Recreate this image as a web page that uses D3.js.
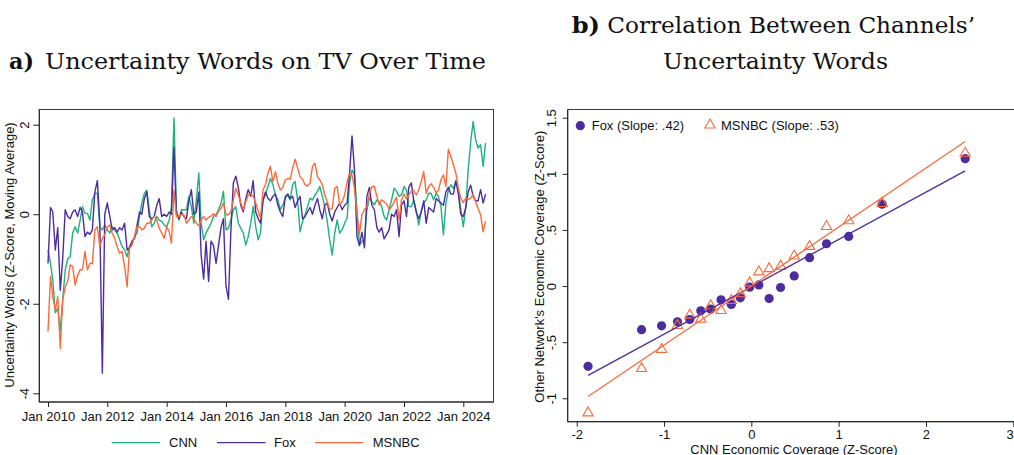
<!DOCTYPE html>
<html><head><meta charset="utf-8">
<script src="https://cdn.jsdelivr.net/npm/d3@7"></script>
<style>
html,body{margin:0;padding:0;background:#fff;}
svg{display:block;}
text{font-family:"Liberation Sans",Arial,Helvetica,sans-serif;fill:#111;}
.title{font-family:"DejaVu Serif","Liberation Serif",serif;}
</style></head>
<body><svg id="c" width="1014" height="455"></svg>
<script>
// ---------- DATA ----------
const startMonth = "2010-01";
const cnn = [
-0.8,-1.1,-1.47,-2.2,-2.1,-2.6,-1.9,-1.25,-1.0,-0.95,-0.42,-0.28,
-0.42,-0.13,0.17,0.02,0.02,-0.13,0.32,0.47,0.47,-0.28,-0.35,-0.24,
-0.35,-0.42,-0.28,-0.35,-0.42,-0.57,-0.72,-0.8,-0.95,-0.72,-0.65,-0.5,
-0.42,-0.05,0.25,0.47,0.54,0.1,-0.28,-0.2,-0.05,-0.13,-0.16,-0.24,
-0.28,-0.13,0.17,2.15,0.1,-0.13,0.1,0.1,0.1,0.4,0.17,-0.2,
0.32,0.92,-0.2,-0.57,-0.42,-0.31,-0.2,-0.05,-0.01,0.1,0.25,0.51,
-0.35,-0.31,-0.13,0.1,0.17,-0.2,-0.31,-0.42,-0.69,-0.5,-0.2,0.17,
-0.28,-0.57,-0.42,0.32,0.43,0.62,0.8,0.66,0.43,0.32,0.1,0.21,
0.36,0.43,0.32,0.66,0.73,0.32,-0.39,-0.16,-0.01,0.17,0.36,0.32,
0.43,0.51,0.62,0.4,0.17,-0.16,-0.57,-0.91,-0.42,-0.13,-0.42,-0.35,
-0.2,-0.09,0.69,0.99,0.88,0.1,-0.69,-0.61,-0.57,0.1,0.36,0.28,
0.21,0.32,0.28,0.17,-0.05,-0.13,0.1,0.32,0.58,0.51,0.4,0.43,
0.62,0.54,0.17,0.17,0.32,0.06,-0.24,0.06,0.25,0.32,0.47,0.47,
0.32,0.47,0.4,0.17,-0.46,0.25,0.54,0.66,0.58,0.73,0.54,0.1,
-0.28,0.17,0.99,1.62,2.07,1.66,1.48,1.55,1.07,1.59];
const fox = [
-1.1,0.15,0.05,-0.8,-0.3,-1.7,-1.0,0.1,-0.05,-0.1,0.05,0.1,
-0.05,0.15,0.05,-0.5,-0.4,-0.45,-0.35,0.5,0.75,-0.2,-3.55,0.0,
0.25,-0.05,-0.35,-0.3,-0.4,-0.3,-0.35,-0.2,-0.8,-0.75,-0.6,-0.55,
-0.25,0.05,0.0,0.35,0.5,-0.05,-0.1,-0.05,0.2,0.35,-0.05,0.0,
-0.05,0.05,0.0,1.5,0.0,-0.1,0.05,-0.05,-0.1,0.3,0.55,0.0,
0.05,0.5,-0.9,-1.45,-0.6,-1.5,-0.6,-0.7,-1.1,-0.7,-0.3,-0.1,
-1.6,-1.9,-0.4,0.7,0.85,0.6,0.2,0.05,0.35,0.55,0.4,0.75,
0.05,-0.1,-0.2,0.3,0.5,0.35,0.3,0.4,0.45,0.2,0.05,-0.05,
0.4,0.45,0.35,0.4,0.15,0.3,0.4,-0.1,-0.05,0.05,0.15,0.0,
0.2,0.35,0.1,-0.1,0.2,0.25,0.0,-0.15,0.05,0.15,0.25,0.1,
0.2,0.25,0.9,1.75,1.0,-0.5,-0.7,-0.4,-0.75,0.4,0.6,0.2,
0.1,-0.3,-0.4,-0.3,-0.55,-0.45,-0.35,0.0,-0.05,0.1,-0.5,0.2,
0.3,-0.05,0.6,0.7,0.3,0.05,-0.1,0.05,0.3,-0.2,0.15,0.1,
0.05,0.35,0.3,0.25,0.2,0.5,0.6,0.45,0.45,0.75,0.45,0.0,
-0.05,0.15,0.5,0.65,0.4,0.3,0.3,0.55,0.25,0.45];
const msnbc = [
-2.62,-1.39,-1.84,-2.14,-1.84,-3.0,-1.92,-1.62,-1.5,-1.13,-1.17,-1.58,
-1.36,-1.24,-1.24,-0.83,-1.24,-1.1,-1.1,-0.35,-0.28,-0.72,-0.54,-0.46,
-0.28,-0.24,-0.42,-0.54,-0.72,-0.87,-0.83,-1.17,-1.62,-0.76,-0.69,-0.5,
-0.28,-0.28,-0.35,-0.31,-0.2,-0.2,-0.13,-0.05,-0.13,-0.31,-0.42,-0.54,
-0.28,-0.39,-0.65,0.54,-0.05,-0.05,-0.01,-0.01,-0.2,-0.13,-0.05,-0.09,
-0.2,-0.26,-0.13,-0.05,-0.13,-0.07,-0.04,0.01,-0.05,0.06,0.13,0.25,
-0.01,-0.01,0.06,0.32,0.58,0.43,0.25,0.1,0.28,0.43,0.45,0.4,
0.25,0.06,-0.09,0.54,0.66,0.92,1.07,0.73,0.95,0.69,0.54,0.6,
0.77,0.8,0.78,1.03,1.23,1.03,0.84,0.78,0.66,0.63,0.69,1.07,
1.14,0.83,0.77,0.66,0.43,0.28,0.1,0.13,0.58,0.62,0.21,0.28,
0.43,0.73,0.9,0.88,0.58,0.02,-0.44,-0.01,0.1,0.17,0.47,0.62,
0.62,0.4,0.21,0.32,0.28,0.23,0.11,0.16,0.28,0.38,-0.13,0.32,
0.45,0.34,0.43,0.51,0.53,0.43,0.54,0.73,0.95,0.47,0.62,0.68,
0.6,0.48,0.53,0.77,0.88,0.62,1.45,1.29,1.1,0.92,0.58,0.36,
0.26,0.36,0.34,0.36,0.45,0.28,0.13,-0.01,-0.39,-0.16];
const seriesNames = ["CNN","Fox","MSNBC"];
const timeYTicks = [-4,-2,0,2];
const timeYLabels = ["-4","-2","0","2"];
const timeXTickYears = [2010,2012,2014,2016,2018,2020,2022,2024];

const cnnBins   = [-1.87,-1.257,-1.028,-0.846,-0.705,-0.579,-0.465,-0.347,-0.229,-0.126,-0.019,0.086,0.204,0.335,0.491,0.667,0.861,1.115,1.498,2.449];
const foxBins   = [-0.715,-0.389,-0.354,-0.318,-0.298,-0.220,-0.206,-0.123,-0.164,-0.105,-0.010,0.010,-0.111,-0.013,0.090,0.253,0.377,0.442,0.730,1.135];
const msnbcBins = [-1.13,-0.735,-0.564,-0.351,-0.259,-0.295,-0.176,-0.218,-0.129,-0.069,0.028,0.126,0.155,0.176,0.268,0.353,0.531,0.582,0.735,1.183];
const foxFit   = [-0.007, 0.422];  // intercept, slope
const msnbcFit = [0.0, 0.526];
const scatterXTicks = [-2,-1,0,1,2,3];
const scatterXLabels = ["-2","-1","0","1","2","3"];
const scatterYTicks = [-1,-0.5,0,0.5,1,1.5];
const scatterYLabels = ["-1","-.5","0",".5","1","1.5"];
const legendB = ["Fox (Slope: .42)","MSNBC (Slope: .53)"];

// ---------- STYLE ----------
const colors = {CNN:"#1cb17f", Fox:"#4c2c9e", MSNBC:"#fd6a3a"};
const svg = d3.select("#c");
const axisColor = "#222";

// ---------- PANEL A ----------
const parse = d3.timeParse("%Y-%m");
const t0 = parse(startMonth);
const dates = cnn.map((_, i) => d3.timeMonth.offset(t0, i));
const xA = d3.scaleTime().domain([new Date(2010,0,1), new Date(2024,0,1)]).range([48, 463.3]);
const yA = d3.scaleLinear().domain([-4, 2]).range([393.3, 124.7]);
const frameA = {l:39.3, r:493.5, t:109.5, b:402};

const gA = svg.append("g");
gA.append("rect").attr("x",frameA.l).attr("y",frameA.t).attr("width",frameA.r-frameA.l).attr("height",frameA.b-frameA.t)
  .attr("fill","none").attr("stroke","#3a3a3a").attr("stroke-width",1);

const line = d3.line().x((d,i)=>xA(dates[i])).y(d=>yA(d));
[["CNN",cnn],["Fox",fox],["MSNBC",msnbc]].forEach(([n,arr])=>{
  gA.append("path").datum(arr).attr("d",line).attr("fill","none")
    .attr("stroke",colors[n]).attr("stroke-width",1.4).attr("stroke-linejoin","round");
});

// y axis
const yAxisA = d3.axisLeft(yA).tickValues(timeYTicks).tickSize(6).tickFormat((d,i)=>timeYLabels[i]);
const gyA = gA.append("g").attr("transform",`translate(${frameA.l},0)`).call(yAxisA);
gyA.select(".domain").attr("stroke",axisColor).attr("d",`M0,${frameA.t}V${frameA.b}`);
gyA.selectAll(".tick line").attr("stroke",axisColor);
gyA.selectAll(".tick text").attr("x",null).attr("dy",null).attr("text-anchor","middle")
  .attr("transform","translate(-10.5,0) rotate(-90)").attr("font-size",13).attr("fill","#111");
// x axis
const xAxisA = d3.axisBottom(xA).tickValues(timeXTickYears.map(y=>new Date(y,0,1))).tickSize(5)
  .tickFormat(d3.timeFormat("Jan %Y"));
const gxA = gA.append("g").attr("transform",`translate(0,${frameA.b})`).call(xAxisA);
gxA.select(".domain").attr("stroke",axisColor).attr("d",`M${frameA.l},0H${frameA.r}`);
gxA.selectAll(".tick line").attr("stroke",axisColor);
gxA.selectAll(".tick text").attr("y",18.5).attr("dy",null).attr("font-size",13).attr("fill","#111");
gA.selectAll("g").attr("font-family",null);

gA.append("text").attr("transform","translate(14,255) rotate(-90)").attr("text-anchor","middle")
  .attr("font-size",13).text("Uncertainty Words (Z-Score, Moving Average)");

// legend A
const legX = [[111.7,169],[217,274],[315,372.7]];
seriesNames.forEach((n,i)=>{
  gA.append("line").attr("x1",legX[i][0]).attr("x2",legX[i][0]+48.5).attr("y1",442.7).attr("y2",442.7)
    .attr("stroke",colors[n]).attr("stroke-width",1.3);
  gA.append("text").attr("x",legX[i][1]).attr("y",447.3).attr("font-size",13).text(n);
});

// title A
svg.append("text").attr("class","title").attr("x",9).attr("y",69).attr("font-size",23).attr("font-weight","bold")
  .attr("textLength",25).attr("lengthAdjust","spacingAndGlyphs").text("a)");
svg.append("text").attr("class","title").attr("x",45).attr("y",69).attr("font-size",23)
  .attr("textLength",441).attr("lengthAdjust","spacingAndGlyphs").text("Uncertainty Words on TV Over Time");

// ---------- PANEL B ----------
const xB = d3.scaleLinear().domain([-2, 3]).range([576.7, 1013.3]);
const yB = d3.scaleLinear().domain([-1, 1.5]).range([398.3, 117.7]);
const frameB = {l:567.7, r:1016, t:109.5, b:421.7};
const gB = svg.append("g");
gB.append("rect").attr("x",frameB.l).attr("y",frameB.t).attr("width",frameB.r-frameB.l).attr("height",frameB.b-frameB.t)
  .attr("fill","none").attr("stroke","#3a3a3a").attr("stroke-width",1);

// points
gB.selectAll("circle.fox").data(cnnBins).join("circle").attr("class","fox")
  .attr("cx",d=>xB(d)).attr("cy",(d,i)=>yB(foxBins[i])).attr("r",4.6).attr("fill",colors.Fox);
const tri = d3.symbol().type(d3.symbolTriangle).size(46);
gB.selectAll("path.ms").data(cnnBins).join("path").attr("class","ms")
  .attr("transform",(d,i)=>`translate(${xB(d)},${yB(msnbcBins[i])})`).attr("d",tri())
  .attr("fill","none").attr("stroke",colors.MSNBC).attr("stroke-width",1.1);
// fit lines
const xr = d3.extent(cnnBins);
[[foxFit,colors.Fox],[msnbcFit,colors.MSNBC]].forEach(([f,c])=>{
  gB.append("line").attr("x1",xB(xr[0])).attr("x2",xB(xr[1]))
    .attr("y1",yB(f[0]+f[1]*xr[0])).attr("y2",yB(f[0]+f[1]*xr[1]))
    .attr("stroke",c).attr("stroke-width",1.3);
});

// axes
const yAxisB = d3.axisLeft(yB).tickValues(scatterYTicks).tickSize(5).tickFormat((d,i)=>scatterYLabels[i]);
const gyB = gB.append("g").attr("transform",`translate(${frameB.l},0)`).call(yAxisB);
gyB.select(".domain").attr("stroke",axisColor).attr("d",`M0,${frameB.t}V${frameB.b}`);
gyB.selectAll(".tick line").attr("stroke",axisColor);
gyB.selectAll(".tick text").attr("x",null).attr("dy",null).attr("text-anchor","middle")
  .attr("transform","translate(-11.5,0) rotate(-90)").attr("font-size",13).attr("fill","#111");
const xAxisB = d3.axisBottom(xB).tickValues(scatterXTicks).tickSize(5).tickFormat((d,i)=>scatterXLabels[i]);
const gxB = gB.append("g").attr("transform",`translate(0,${frameB.b})`).call(xAxisB);
gxB.select(".domain").attr("stroke",axisColor).attr("d",`M${frameB.l},0H${frameB.r}`);
gxB.selectAll(".tick line").attr("stroke",axisColor);
gxB.selectAll(".tick text").attr("y",17).attr("dy",null).attr("font-size",13).attr("fill","#111")
  .attr("text-anchor",(d,i)=> i===scatterXTicks.length-1 ? "end" : "middle");
gB.selectAll("g").attr("font-family",null);

gB.append("text").attr("x",794).attr("y",453.5).attr("text-anchor","middle").attr("font-size",13)
  .text("CNN Economic Coverage (Z-Score)");
gB.append("text").attr("transform","translate(544,266.7) rotate(-90)").attr("text-anchor","middle")
  .attr("font-size",13).text("Other Network's Economic Coverage (Z-Score)");

// legend B
gB.append("circle").attr("cx",580.3).attr("cy",125.7).attr("r",4.6).attr("fill",colors.Fox);
gB.append("text").attr("x",591.7).attr("y",130.3).attr("font-size",13).text(legendB[0]);
gB.append("path").attr("transform","translate(710,125)").attr("d",tri())
  .attr("fill","none").attr("stroke",colors.MSNBC).attr("stroke-width",1.1);
gB.append("text").attr("x",721).attr("y",130.3).attr("font-size",13).text(legendB[1]);

// title B
svg.append("text").attr("class","title").attr("x",571.7).attr("y",33.3).attr("font-size",23).attr("font-weight","bold")
  .attr("textLength",28.3).attr("lengthAdjust","spacingAndGlyphs").text("b)");
svg.append("text").attr("class","title").attr("x",607.3).attr("y",33.3).attr("font-size",23)
  .attr("textLength",367.7).attr("lengthAdjust","spacingAndGlyphs").text("Correlation Between Channels’");
svg.append("text").attr("class","title").attr("x",663).attr("y",68.5).attr("font-size",23)
  .attr("textLength",225).attr("lengthAdjust","spacingAndGlyphs").text("Uncertainty Words");
</script></body></html>
